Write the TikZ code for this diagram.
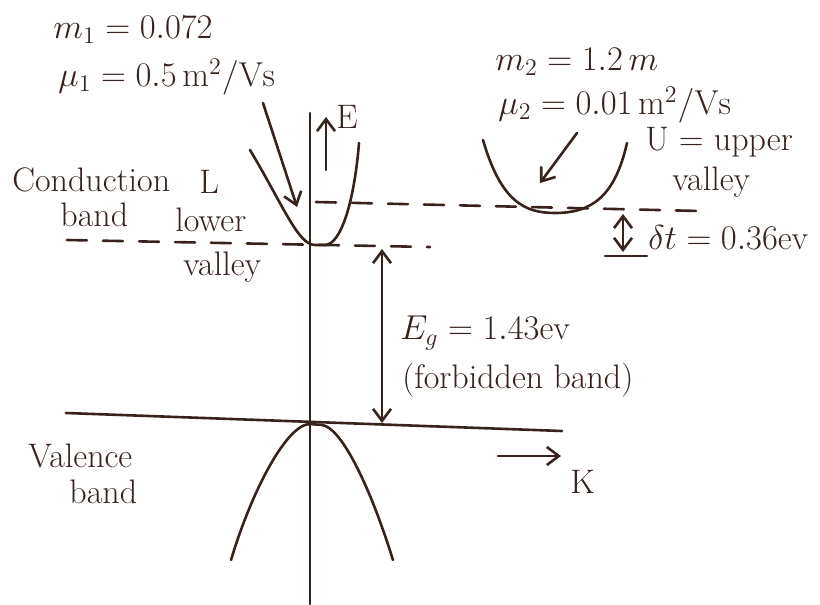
\documentclass[tikz,border=0pt]{standalone}
\usepackage{amsmath,amssymb}
\usepackage{tikz}
\usetikzlibrary{arrows.meta,calc,positioning}
\definecolor{ink}{RGB}{55,34,28}

\begin{document}
\begin{tikzpicture}[x=0.5pt,y=-0.5pt,>={Straight Barb[length=6pt,width=9pt]},
    font=\fontsize{17}{20}\selectfont,
    pen/.style={ink,line width=1.3pt,line cap=round,line join=round},
    lvl/.style={pen,dash pattern=on 10pt off 8pt},
    lbl/.style={ink,anchor=west,inner sep=0pt}]
  \useasboundingbox (0,0) rectangle (820,605);
  % ---------------- axes ----------------
  \coordinate (Etop) at (310,113);
  \coordinate (Ebot) at (310,604);
  \coordinate (Kleft) at (66,413);
  \coordinate (Kright) at (562,431);
  \draw[pen] (Etop) -- (Ebot);
  \draw[pen] (Kleft) -- (Kright);
  \coordinate (Efoot) at (326,170);
  \coordinate (Ehead) at (326,117);
  \draw[pen,->] (Efoot) -- (Ehead);
  \node[lbl] (Elab) at (336,117) {E};
  \coordinate (Kfoot) at (498,456);
  \coordinate (Khead) at (561,456);
  \draw[pen,->] (Kfoot) -- (Khead);
  \node[lbl] (Klab) at (570,482) {K};
  % ---------------- bands ----------------
  % lower valley (L), touching the lower level
  \draw[pen] (250,150) .. controls (283,205) and (298,245) .. (315,245) -- (325,245)
    .. controls (340,245) and (354,205) .. (359,143);
  % upper valley (U)
  \draw[pen] (483,140) .. controls (501,202) and (525,213) .. (555,213)
    .. controls (592,213) and (615,196) .. (627,143);
  % valence band
  \draw[pen] (231,560) .. controls (252,490) and (287,424) .. (310,424) -- (322,425)
    .. controls (340,427) and (368,480) .. (393,560);
  \draw[lvl] (67,240) -- (430,247);
  \draw[lvl] (316,202) -- (700,211);
  % ---------------- gaps ----------------
  \coordinate (EgTop) at (382,249);
  \coordinate (EgBot) at (382,423);
  \draw[pen,<->] (EgTop) -- (EgBot);
  \node[lbl] (Eg) at (400,333) {$E_g = 1.43$ev};
  \node[lbl] (forb) at (402,380) {(forbidden band)};
  \coordinate (dTop) at (623,214);
  \coordinate (dBot) at (623,252);
  \draw[pen,<->] (dTop) -- (dBot);
  \draw[pen] (605,256) -- (647,256);
  \node[lbl] (dE) at (648,238) {$\delta t = 0.36$ev};
  % ---------------- labels ----------------
  \node[lbl] (m1) at (53,30) {$m_1 = 0.072$};
  \node[lbl] (mu1) at (58,77) {$\mu_1 = 0.5\,\mathrm{m^2/Vs}$};
  \node[lbl] (m2) at (495,62) {$m_2 = 1.2\,m$};
  \node[lbl] (mu2) at (498,105) {$\mu_2 = 0.01\,\mathrm{m^2/Vs}$};
  \node[lbl] (Uup) at (645,142) {U = upper};
  \node[lbl] (Uval) at (672,182) {valley};
  \node[lbl] (cond) at (12,180) {Conduction};
  \node[lbl] (condb) at (60,215) {band};
  \node[lbl] (L) at (199,182) {L};
  \node[lbl] (low) at (175,220) {lower};
  \node[lbl] (lowv) at (183,267) {valley};
  \node[lbl] (val) at (28,456) {Valence};
  \node[lbl] (valb) at (69,492) {band};
  % pointers to the two valleys
  \coordinate (Lfrom) at (263,103);
  \coordinate (Lto) at (297,207);
  \draw[pen,->] (Lfrom) -- (Lto);
  \coordinate (Ufrom) at (577,133);
  \coordinate (Uto) at (540,183);
  \draw[pen,->] (Ufrom) -- (Uto);
\end{tikzpicture}
\end{document}
